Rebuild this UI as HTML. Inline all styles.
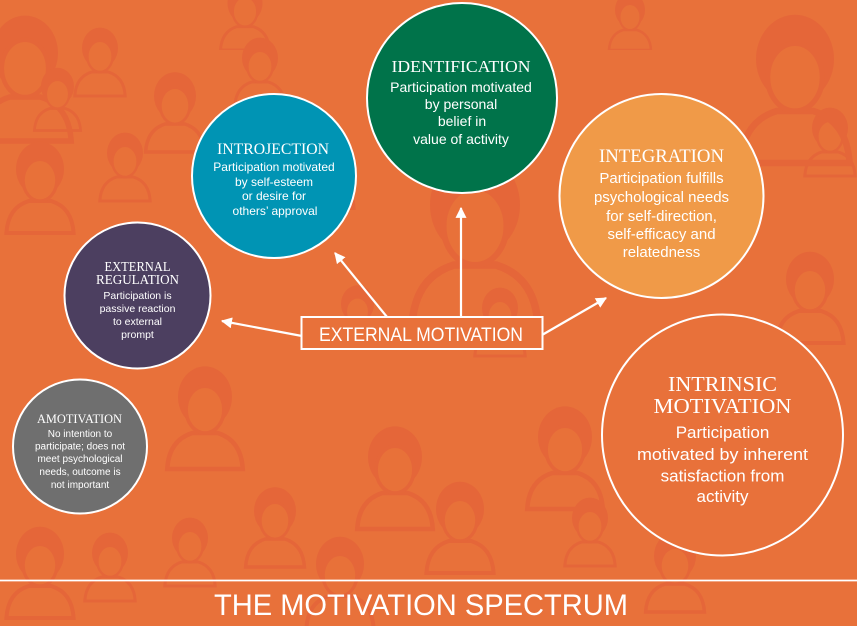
<!DOCTYPE html>
<html><head><meta charset="utf-8"><style>
html,body{margin:0;padding:0;background:#E8713A;}
svg{display:block;}
.t{font-family:"Liberation Serif",serif;fill:#fff;text-anchor:middle;}
.b{font-family:"Liberation Sans",sans-serif;fill:#fff;text-anchor:middle;}
</style></head><body>
<svg width="857" height="626" viewBox="0 0 857 626" xmlns="http://www.w3.org/2000/svg">
<defs>
<symbol id="p" viewBox="0 0 100 120">
<path d="M8,120 Q10,88 36,80 L64,80 Q90,88 92,120 Z" fill="none" stroke="#E4623A" stroke-width="5"/>
<ellipse cx="50" cy="40" rx="30" ry="34" fill="#E4623A"/>
<ellipse cx="50" cy="54" rx="21" ry="26" fill="#E8713A" stroke="#E4623A" stroke-width="4"/>
</symbol>
<marker id="ah" viewBox="0 0 10 10" refX="9" refY="5" markerWidth="5" markerHeight="5" orient="auto" markerUnits="strokeWidth">
<path d="M0,0 L10,5 L0,10 Z" fill="#fff"/>
</marker>
</defs>
<rect width="857" height="626" fill="#E8713A"/>
<g opacity="0.7">
<use href="#p" x="-30" y="0" width="110" height="150"/>
<use href="#p" x="70" y="20" width="60" height="80"/>
<use href="#p" x="30" y="60" width="55" height="75"/>
<use href="#p" x="140" y="60" width="70" height="100"/>
<use href="#p" x="230" y="30" width="60" height="80"/>
<use href="#p" x="190" y="-20" width="110" height="70"/>
<use href="#p" x="0" y="130" width="80" height="110"/>
<use href="#p" x="95" y="120" width="60" height="90"/>
<use href="#p" x="280" y="100" width="80" height="120"/>
<use href="#p" x="330" y="280" width="55" height="70"/>
<use href="#p" x="160" y="350" width="90" height="130"/>
<use href="#p" x="350" y="400" width="90" height="150"/>
<use href="#p" x="420" y="470" width="80" height="110"/>
<use href="#p" x="160" y="510" width="60" height="80"/>
<use href="#p" x="240" y="470" width="70" height="110"/>
<use href="#p" x="520" y="380" width="90" height="150"/>
<use href="#p" x="560" y="480" width="60" height="100"/>
<use href="#p" x="590" y="-10" width="80" height="60"/>
<use href="#p" x="800" y="80" width="60" height="120"/>
<use href="#p" x="770" y="220" width="80" height="150"/>
<use href="#p" x="0" y="520" width="80" height="100"/>
<use href="#p" x="80" y="520" width="60" height="90"/>
<use href="#p" x="470" y="280" width="60" height="80"/>
<use href="#p" x="730" y="-20" width="130" height="210"/>
<use href="#p" x="400" y="140" width="150" height="190"/>
<use href="#p" x="640" y="520" width="70" height="100"/>
<use href="#p" x="300" y="530" width="80" height="100"/>
</g>

<!-- connectors -->
<g stroke="#fff" stroke-width="2.2" fill="none" marker-end="url(#ah)">
<line x1="387" y1="317" x2="335" y2="253"/>
<line x1="461" y1="317" x2="461" y2="208"/>
<line x1="542" y1="335" x2="606" y2="298"/>
<line x1="302" y1="336" x2="222" y2="321"/>
</g>

<!-- box -->
<rect x="301.5" y="317" width="241" height="32" fill="#E8713A" stroke="#fff" stroke-width="2"/>
<text class="b" x="421" y="341" font-size="19.5" textLength="204" lengthAdjust="spacingAndGlyphs">EXTERNAL MOTIVATION</text>

<!-- Identification -->
<circle cx="462" cy="98" r="95" fill="#00734A" stroke="#fff" stroke-width="2"/>
<text class="t" x="461" y="72" font-size="17" textLength="139" lengthAdjust="spacingAndGlyphs">IDENTIFICATION</text>
<text class="b" x="461" y="92" font-size="14">Participation motivated</text>
<text class="b" x="461" y="109" font-size="14">by personal</text>
<text class="b" x="462" y="126" font-size="14">belief in</text>
<text class="b" x="461" y="144" font-size="14">value of activity</text>

<!-- Introjection -->
<circle cx="274" cy="176" r="82" fill="#0094B4" stroke="#fff" stroke-width="2"/>
<text class="t" x="273" y="154" font-size="16" textLength="112" lengthAdjust="spacingAndGlyphs">INTROJECTION</text>
<text class="b" x="274" y="171" font-size="12">Participation motivated</text>
<text class="b" x="274" y="186" font-size="12">by self-esteem</text>
<text class="b" x="274" y="200" font-size="12">or desire for</text>
<text class="b" x="275" y="215" font-size="12">others’ approval</text>

<!-- Integration -->
<circle cx="661.5" cy="196" r="102" fill="#F09A48" stroke="#fff" stroke-width="2"/>
<text class="t" x="661.5" y="162" font-size="19" textLength="125" lengthAdjust="spacingAndGlyphs">INTEGRATION</text>
<text class="b" x="661.5" y="183" font-size="15">Participation fulfills</text>
<text class="b" x="661.5" y="202" font-size="15">psychological needs</text>
<text class="b" x="661.5" y="221" font-size="15">for self-direction,</text>
<text class="b" x="661.5" y="239" font-size="15">self-efficacy and</text>
<text class="b" x="661.5" y="257" font-size="15">relatedness</text>

<!-- External regulation -->
<circle cx="137.5" cy="295.5" r="73" fill="#4C3F60" stroke="#fff" stroke-width="2"/>
<text class="t" x="137.5" y="271" font-size="14" textLength="66" lengthAdjust="spacingAndGlyphs">EXTERNAL</text>
<text class="t" x="137.5" y="284" font-size="14" textLength="83" lengthAdjust="spacingAndGlyphs">REGULATION</text>
<text class="b" x="137.5" y="299" font-size="10.5">Participation is</text>
<text class="b" x="137.5" y="312" font-size="10.5">passive reaction</text>
<text class="b" x="137.5" y="325" font-size="10.5">to external</text>
<text class="b" x="137.5" y="338" font-size="10.5">prompt</text>

<!-- Amotivation -->
<circle cx="80" cy="446.5" r="67" fill="#6F6F6F" stroke="#fff" stroke-width="2"/>
<text class="t" x="79.5" y="423" font-size="12.5" textLength="85" lengthAdjust="spacingAndGlyphs">AMOTIVATION</text>
<text class="b" x="80" y="437" font-size="10">No intention to</text>
<text class="b" x="80" y="449.5" font-size="10">participate; does not</text>
<text class="b" x="80" y="462" font-size="10">meet psychological</text>
<text class="b" x="80" y="475" font-size="10">needs, outcome is</text>
<text class="b" x="80" y="488" font-size="10">not important</text>

<!-- Intrinsic -->
<circle cx="722.5" cy="435" r="120.5" fill="#E8713A" stroke="#fff" stroke-width="2"/>
<text class="t" x="722.5" y="391" font-size="21" textLength="109" lengthAdjust="spacingAndGlyphs">INTRINSIC</text>
<text class="t" x="722.5" y="413" font-size="21" textLength="138" lengthAdjust="spacingAndGlyphs">MOTIVATION</text>
<text class="b" x="722.5" y="438" font-size="17">Participation</text>
<text class="b" x="722.5" y="460" font-size="17" textLength="171" lengthAdjust="spacingAndGlyphs">motivated by inherent</text>
<text class="b" x="722.5" y="481.5" font-size="17">satisfaction from</text>
<text class="b" x="722.5" y="502" font-size="17">activity</text>

<!-- bottom -->
<line x1="0" y1="580.5" x2="857" y2="580.5" stroke="#fff" stroke-width="1.8"/>
<text class="b" x="421" y="615" font-size="30" textLength="414" lengthAdjust="spacingAndGlyphs">THE MOTIVATION SPECTRUM</text>
</svg>
</body></html>
